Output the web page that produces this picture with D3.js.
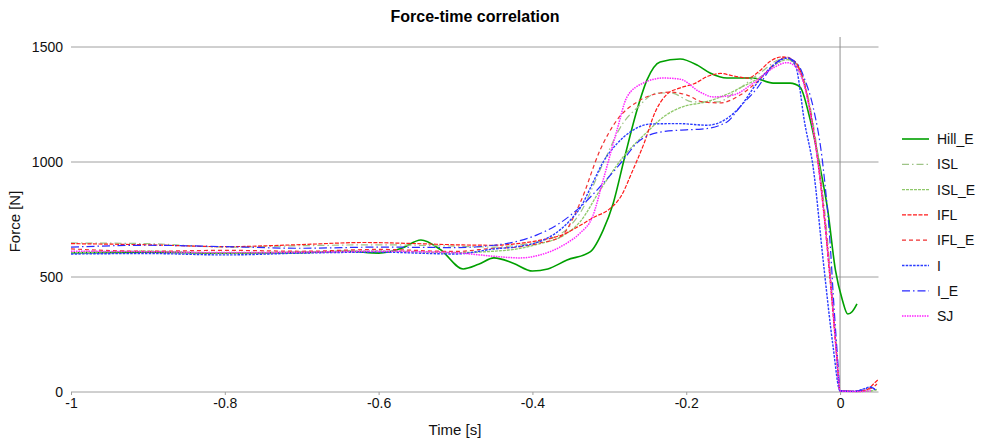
<!DOCTYPE html>
<html>
<head>
<meta charset="utf-8">
<script src="https://cdn.jsdelivr.net/npm/d3@7"></script>
<style>
  body { margin: 0; background: #fff; }
  svg { display: block; font-family: "Liberation Sans", Arial, sans-serif; }
</style>
</head>
<body>
<div id="chart"></div>
<script>
// Series data: [time in s, force in N]
const hillE = [
  [-1, 605], [-0.9, 608], [-0.8, 603], [-0.7, 606], [-0.64, 612], [-0.6, 604],
  [-0.57, 625], [-0.545, 661], [-0.52, 620], [-0.49, 535], [-0.47, 555], [-0.45, 583],
  [-0.425, 560], [-0.4, 526], [-0.38, 535], [-0.355, 574], [-0.325, 609], [-0.308, 704],
  [-0.295, 820], [-0.28, 1022], [-0.264, 1226], [-0.251, 1357], [-0.234, 1435], [-0.208, 1448],
  [-0.185, 1420], [-0.169, 1387], [-0.147, 1365], [-0.113, 1365], [-0.087, 1343], [-0.065, 1343],
  [-0.052, 1326], [-0.04, 1200], [-0.026, 978], [-0.016, 791], [-0.006, 530], [0.003, 400],
  [0.01, 339], [0.016, 350], [0.022, 383]
];
const isl = [
  [-1, 648], [-0.9, 645], [-0.8, 630], [-0.7, 636], [-0.6, 640], [-0.5, 634], [-0.45, 630],
  [-0.42, 638], [-0.39, 655], [-0.36, 695], [-0.338, 778], [-0.31, 980], [-0.282, 1170],
  [-0.264, 1235], [-0.238, 1300], [-0.22, 1300], [-0.191, 1261], [-0.16, 1261], [-0.13, 1322],
  [-0.104, 1387], [-0.075, 1448], [-0.062, 1440], [-0.05, 1390], [-0.04, 1260], [-0.03, 1060],
  [-0.02, 790], [-0.012, 500], [-0.005, 200], [0, 5], [0.02, 2], [0.04, 5], [0.048, 12]
];
const islE = [
  [-1, 605], [-0.9, 612], [-0.8, 604], [-0.7, 609], [-0.6, 613], [-0.5, 606], [-0.45, 612],
  [-0.42, 622], [-0.39, 645], [-0.36, 680], [-0.338, 740], [-0.312, 878], [-0.282, 1022],
  [-0.251, 1130], [-0.23, 1195], [-0.2, 1245], [-0.18, 1257], [-0.155, 1283], [-0.13, 1322],
  [-0.1, 1378], [-0.08, 1432], [-0.068, 1445], [-0.056, 1410], [-0.045, 1320], [-0.035, 1150],
  [-0.025, 910], [-0.015, 580], [-0.007, 280], [0, 5], [0.02, 2], [0.04, 4], [0.048, 10]
];
const ifl = [
  [-1, 645], [-0.9, 640], [-0.8, 632], [-0.7, 641], [-0.62, 650], [-0.55, 645], [-0.5, 640],
  [-0.45, 638], [-0.42, 645], [-0.39, 660], [-0.36, 685], [-0.34, 720], [-0.32, 760],
  [-0.3, 795], [-0.285, 850], [-0.27, 960], [-0.255, 1080], [-0.24, 1220], [-0.225, 1295],
  [-0.21, 1320], [-0.19, 1340], [-0.17, 1375], [-0.155, 1385], [-0.14, 1375], [-0.12, 1365],
  [-0.105, 1395], [-0.09, 1440], [-0.075, 1457], [-0.06, 1440], [-0.05, 1380], [-0.04, 1240],
  [-0.03, 1030], [-0.02, 740], [-0.012, 450], [-0.005, 180], [0, 5], [0.02, 3], [0.035, 10],
  [0.045, 40], [0.05, 55]
];
const iflE = [
  [-1, 622], [-0.9, 612], [-0.8, 616], [-0.7, 612], [-0.6, 620], [-0.5, 611], [-0.45, 625],
  [-0.42, 630], [-0.39, 648], [-0.364, 674], [-0.338, 822], [-0.312, 1052], [-0.29, 1183],
  [-0.264, 1261], [-0.234, 1300], [-0.221, 1304], [-0.199, 1291], [-0.178, 1261], [-0.156, 1257],
  [-0.13, 1291], [-0.108, 1348], [-0.082, 1435], [-0.07, 1457], [-0.058, 1430], [-0.048, 1360],
  [-0.038, 1210], [-0.028, 990], [-0.018, 690], [-0.01, 400], [-0.004, 150], [0, 5], [0.02, 3],
  [0.04, 15], [0.048, 35]
];
const iSeries = [
  [-1, 600], [-0.9, 602], [-0.8, 596], [-0.7, 604], [-0.6, 608], [-0.5, 600], [-0.45, 622],
  [-0.42, 632], [-0.39, 655], [-0.37, 690], [-0.35, 750], [-0.338, 800], [-0.32, 920],
  [-0.308, 1000], [-0.29, 1080], [-0.273, 1130], [-0.247, 1165], [-0.21, 1167], [-0.173, 1160],
  [-0.15, 1183], [-0.13, 1240], [-0.108, 1343], [-0.087, 1420], [-0.068, 1452], [-0.058, 1420],
  [-0.046, 1170], [-0.035, 978], [-0.022, 574], [-0.009, 196], [0, 5], [0.02, 3], [0.032, 15],
  [0.04, 22], [0.046, 8]
];
const iE = [
  [-1, 630], [-0.9, 638], [-0.8, 632], [-0.7, 625], [-0.6, 630], [-0.5, 628], [-0.45, 638],
  [-0.42, 655], [-0.394, 683], [-0.364, 735], [-0.338, 804], [-0.31, 900], [-0.284, 1000],
  [-0.264, 1083], [-0.234, 1130], [-0.2, 1140], [-0.18, 1143], [-0.147, 1174], [-0.13, 1240],
  [-0.108, 1320], [-0.087, 1420], [-0.07, 1452], [-0.055, 1425], [-0.046, 1360], [-0.035, 1239],
  [-0.022, 978], [-0.012, 600], [-0.009, 430], [-0.003, 139], [0, 5], [0.02, 3], [0.032, 12],
  [0.04, 20], [0.046, 10]
];
const sj = [
  [-1, 612], [-0.9, 610], [-0.8, 606], [-0.7, 608], [-0.6, 612], [-0.5, 606], [-0.48, 600],
  [-0.45, 590], [-0.416, 583], [-0.39, 596], [-0.355, 648], [-0.338, 691], [-0.322, 761],
  [-0.308, 922], [-0.29, 1139], [-0.277, 1283], [-0.256, 1343], [-0.23, 1365], [-0.208, 1360],
  [-0.182, 1304], [-0.165, 1283], [-0.139, 1291], [-0.113, 1343], [-0.087, 1409], [-0.069, 1432],
  [-0.058, 1415], [-0.048, 1350], [-0.038, 1200], [-0.028, 980], [-0.018, 680], [-0.01, 390],
  [-0.004, 140], [0, 5], [0.02, 2], [0.04, 5]
];

const seriesNames = ["Hill_E", "ISL", "ISL_E", "IFL", "IFL_E", "I", "I_E", "SJ"];
const seriesData = [hillE, isl, islE, ifl, iflE, iSeries, iE, sj];
const seriesColors = ["#00a000", "#9ec487", "#8fc86a", "#ff1a1a", "#f03030", "#2a3cff", "#2a2aff", "#ff22ff"];
const seriesDash = [null, "7,3,1.5,3", "3,1", "4,1.5", "4,3", "2.5,1.2", "8,3,1.5,3", "1.5,1"];
const seriesWidth = [1.6, 1.2, 1.3, 1.2, 1.2, 1.4, 1.2, 1.5];

const xTicks = [-1, -0.8, -0.6, -0.4, -0.2, 0];
const yTicks = [0, 500, 1000, 1500];

const width = 982, height = 442;
const margin = { left: 71, right: 104, top: 37, bottom: 50 };

const x = d3.scaleLinear().domain([-1, 0.05]).range([margin.left, width - margin.right + 0.5]);
const y = d3.scaleLinear().domain([0, 1500]).range([height - margin.bottom, 47]);

const svg = d3.select("#chart").append("svg")
  .attr("width", width)
  .attr("height", height)
  .attr("viewBox", `0 0 ${width} ${height}`);

// Horizontal grid lines
svg.append("g")
  .selectAll("line")
  .data(yTicks)
  .join("line")
  .attr("x1", x(-1))
  .attr("x2", x(0.05))
  .attr("y1", d => y(d))
  .attr("y2", d => y(d))
  .attr("stroke", "#a0a0a0")
  .attr("stroke-width", 1);

// Vertical line at t = 0
svg.append("line")
  .attr("x1", x(0)).attr("x2", x(0))
  .attr("y1", margin.top).attr("y2", y(0))
  .attr("stroke", "#909090")
  .attr("stroke-width", 1);

// Y tick labels
svg.append("g")
  .selectAll("text")
  .data(yTicks)
  .join("text")
  .attr("x", margin.left - 8)
  .attr("y", d => y(d) + 5)
  .attr("text-anchor", "end")
  .style("font-size", "14px")
  .style("fill", "#111")
  .text(d => d);

// X axis ticks and labels (plain hyphen minus like the original)
const xAxis = d3.axisBottom(x)
  .tickValues(xTicks)
  .tickSize(3)
  .tickPadding(3)
  .tickFormat(d => String(+d.toFixed(1)));

const xg = svg.append("g")
  .attr("transform", `translate(0, ${y(0)})`)
  .call(xAxis);
xg.select(".domain").remove();
xg.selectAll(".tick line").attr("stroke", "#a0a0a0");
xg.selectAll(".tick text")
  .style("font-size", "14px")
  .style("font-family", "'Liberation Sans', Arial, sans-serif")
  .style("fill", "#111");

// Lines
const line = d3.line()
  .x(d => x(d[0]))
  .y(d => y(d[1]))
  .curve(d3.curveMonotoneX);

const linesG = svg.append("g");
seriesData.forEach((data, i) => {
  linesG.append("path")
    .datum(data)
    .attr("d", line)
    .attr("fill", "none")
    .attr("stroke", seriesColors[i])
    .attr("stroke-width", seriesWidth[i])
    .attr("stroke-dasharray", seriesDash[i]);
});

// Title
svg.append("text")
  .attr("x", 475)
  .attr("y", 22)
  .attr("text-anchor", "middle")
  .style("font-size", "16px")
  .style("font-weight", "bold")
  .style("fill", "#000")
  .text("Force-time correlation");

// Axis titles
svg.append("text")
  .attr("x", 455)
  .attr("y", 435)
  .attr("text-anchor", "middle")
  .style("font-size", "15px")
  .style("fill", "#111")
  .text("Time [s]");

svg.append("text")
  .attr("transform", `translate(20, ${(y(0) + y(1500)) / 2 + 2}) rotate(-90)`)
  .attr("text-anchor", "middle")
  .style("font-size", "15px")
  .style("fill", "#111")
  .text("Force [N]");

// Legend
const legend = svg.append("g").attr("transform", "translate(902, 139)");
const legendItem = legend.selectAll("g")
  .data(seriesNames)
  .join("g")
  .attr("transform", (d, i) => `translate(0, ${i * 25.3})`);

legendItem.append("line")
  .attr("x1", 0).attr("x2", 27)
  .attr("y1", 0).attr("y2", 0)
  .attr("stroke", (d, i) => seriesColors[i])
  .attr("stroke-width", (d, i) => seriesWidth[i])
  .attr("stroke-dasharray", (d, i) => seriesDash[i]);

legendItem.append("text")
  .attr("x", 35)
  .attr("y", 5)
  .style("font-size", "14px")
  .style("fill", "#111")
  .text(d => d);
</script>
</body>
</html>
